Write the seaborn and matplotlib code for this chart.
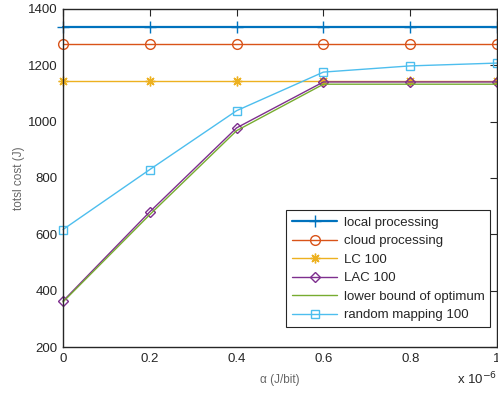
import matplotlib
matplotlib.use("Agg")
import matplotlib.pyplot as plt
import seaborn as sns
import pandas as pd
from matplotlib.ticker import FuncFormatter

alpha = [0.0, 0.2e-6, 0.4e-6, 0.6e-6, 0.8e-6, 1.0e-6]
local_processing = [1335, 1335, 1335, 1335, 1335, 1335]
cloud_processing = [1276, 1276, 1276, 1276, 1276, 1276]
lc_100 = [1144, 1144, 1144, 1144, 1144, 1144]
lac_100 = [363, 680, 978, 1141, 1141, 1141]
lower_bound = [360, 670, 968, 1133, 1133, 1133]
random_mapping = [617, 830, 1039, 1176, 1198, 1208]

series = [
    ("local processing", local_processing, "#0072BD", "+", 1.6, 8),
    ("cloud processing", cloud_processing, "#D95319", "o", 1.0, 7),
    ("LC 100", lc_100, "#EDB120", (8, 2, 0), 1.0, 7),
    ("LAC 100", lac_100, "#7E2F8E", "D", 1.0, 5.5),
    ("lower bound of optimum", lower_bound, "#77AC30", None, 1.0, 0),
    ("random mapping 100", random_mapping, "#4DBEEE", "s", 1.0, 6),
]

sns.set_style("white")
plt.rcParams["font.family"] = ["Liberation Sans", "DejaVu Sans"]

fig = plt.figure(figsize=(4.98, 3.93), dpi=100)
ax = fig.add_axes([63 / 498, 1 - 347 / 393, 434 / 498, 338 / 393])

for name, vals, color, marker, lw, ms in series:
    df = pd.DataFrame({"alpha": alpha, "cost": vals})
    sns.lineplot(data=df, x="alpha", y="cost", ax=ax, color=color, lw=lw,
                 marker=marker, markersize=ms, markerfacecolor="none",
                 markeredgecolor=color, markeredgewidth=1.0, label=name,
                 clip_on=False)

ax.set_xlim(0, 1e-6)
ax.set_ylim(200, 1400)
ax.set_xticks(alpha)
ax.set_yticks([200, 400, 600, 800, 1000, 1200, 1400])
ax.xaxis.set_major_formatter(FuncFormatter(lambda v, p: f"{v * 1e6:g}"))
ax.tick_params(direction="in", length=5, width=0.8, top=True, right=True,
               labelsize=9.5, colors="#262626", pad=4)
for s in ax.spines.values():
    s.set_color("#262626")
    s.set_linewidth(1.0)

ax.set_xlabel("α (J/bit)", fontsize=8.5, color="#666666", labelpad=7)
ax.set_ylabel("totsl cost (J)", fontsize=8.5, color="#666666", labelpad=2)
fig.text(497 / 498, 1 - 379 / 393, r"x 10$^{-6}$", ha="right", va="center",
         fontsize=9.5, color="#262626")

leg = ax.legend(loc="lower right", bbox_to_anchor=(0.985, 0.058), fontsize=9.5,
                frameon=True, fancybox=False, framealpha=1, edgecolor="#262626",
                handlelength=3.4, borderpad=0.45, labelspacing=0.48,
                handletextpad=0.5, borderaxespad=0)
leg.get_frame().set_linewidth(0.8)
for t in leg.get_texts():
    t.set_color("#262626")

fig.savefig("out.png", dpi=100)
